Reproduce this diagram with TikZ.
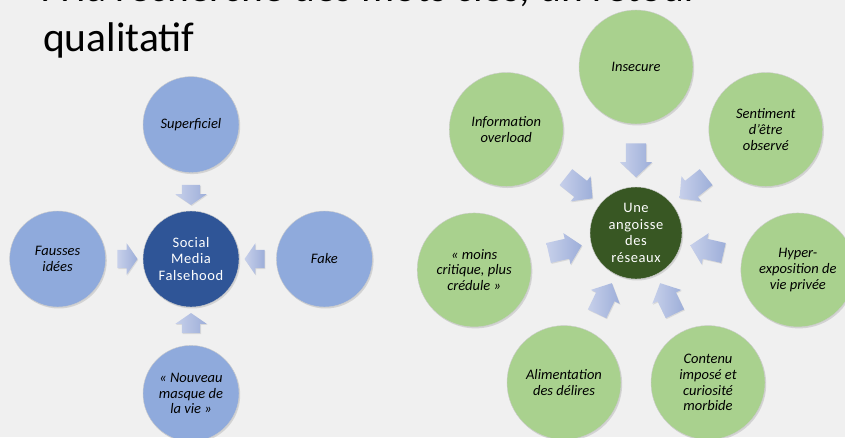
\documentclass[tikz,border=0pt]{standalone}
\usepackage{fontspec}
\setmainfont{Carlito}
\newfontfamily\spacedfont[LetterSpace=4]{Carlito}
\usetikzlibrary{positioning,shapes.arrows,shadows}

\definecolor{bgcol}{HTML}{F0F0F0}
\definecolor{bluelight}{HTML}{8FAADC}
\definecolor{bluedark}{HTML}{2F5597}
\definecolor{greenlight}{HTML}{A9D18E}
\definecolor{greendark}{HTML}{385723}
\definecolor{arrowtail}{HTML}{C7D0EA}
\definecolor{arrowhead}{HTML}{9DAED9}

\begin{document}
\begin{tikzpicture}[x=1pt, y=1pt,
		bubble/.style={circle, draw=black!20, line width=0.4pt, align=center,
			inner sep=0pt, font=\fontsize{14.5}{15.8}\selectfont\itshape,
			drop shadow={opacity=0.25, shadow xshift=1.2pt, shadow yshift=-1.5pt}},
		hub/.style={bubble, text=white, font=\fontsize{14.5}{16.4}\selectfont\spacedfont},
		bluebubble/.style={bubble, fill=bluelight, minimum size=96pt},
		greenbubble/.style={bubble, fill=greenlight, minimum size=114pt},
		push/.style={single arrow, inner xsep=0pt, minimum width=0pt,
			left color=arrowtail, right color=arrowhead, draw=none,
			midway, sloped, allow upside down,
			drop shadow={opacity=0.2, shadow xshift=0.8pt, shadow yshift=-1pt}},
		shortpush/.style={push, minimum height=20pt, inner ysep=9pt,
			single arrow head extend=6.5pt, single arrow tip angle=111},
		longpush/.style={push, minimum height=34pt, inner ysep=10pt,
			single arrow head extend=5.8pt, single arrow tip angle=93} ]
	\fill[bgcol] (0,0) rectangle (845,437);
	\useasboundingbox (0,0) rectangle (845,437);

	\node[anchor=base west, align=left, inner sep=0pt,
		font=\fontsize{41.5}{48}\selectfont] (title) at (43,385)
		{À la recherche des mots clés, un retour\\[2.5pt]qualitatif};

	% social media falsehood
	\node[hub, fill=bluedark, minimum size=96pt] (soc) at (191,178) {Social\\Media\\Falsehood};
	\node[bluebubble, above=38pt of soc] (sup) {Superficiel};
	\node[bluebubble, left=37pt of soc] (fau) {Fausses\\idées};
	\node[bluebubble, right=37pt of soc] (fak) {Fake};
	\node[bluebubble, below=38pt of soc] (mas) {« Nouveau\\masque de\\la vie »};

	\path (sup) -- (soc) node[shortpush] {};
	\path (fau) -- (soc) node[shortpush] {};
	\path (fak) -- (soc) node[shortpush] {};
	\path (mas) -- (soc) node[shortpush] {};

	% angoisse des reseaux
	\node[hub, fill=greendark, minimum size=92pt] (ang) at (636,204) {Une\\angoisse\\des\\réseaux};
	\node[greenbubble] (ins) at ([shift={(90:166pt)}]ang) {Insecure};
	\node[greenbubble] (inf) at ([shift={(141.43:166pt)}]ang) {Information\\overload};
	\node[greenbubble] (cre) at ([shift={(192.86:166pt)}]ang) {« moins\\critique, plus\\crédule »};
	\node[greenbubble] (ali) at ([shift={(244.29:166pt)}]ang) {Alimentation\\des délires};
	\node[greenbubble] (con) at ([shift={(295.71:166pt)}]ang) {Contenu\\imposé et\\curiosité\\morbide};
	\node[greenbubble] (hyp) at ([shift={(347.14:166pt)}]ang) {Hyper-\\exposition de\\vie privée};
	\node[greenbubble] (sen) at ([shift={(38.57:166pt)}]ang) {Sentiment\\d’être\\observé};

	\path (ins) -- (ang) node[longpush] {};
	\path (inf) -- (ang) node[longpush] {};
	\path (cre) -- (ang) node[longpush] {};
	\path (ali) -- (ang) node[longpush] {};
	\path (con) -- (ang) node[longpush] {};
	\path (hyp) -- (ang) node[longpush] {};
	\path (sen) -- (ang) node[longpush] {};
\end{tikzpicture}
\end{document}
